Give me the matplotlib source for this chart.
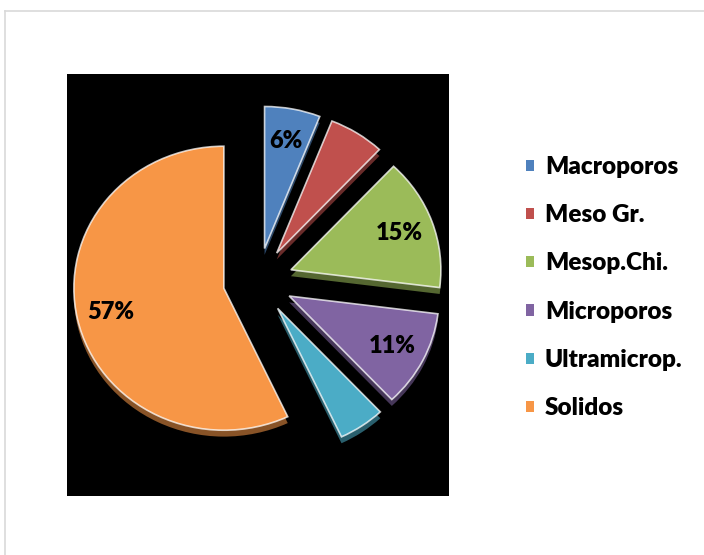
import matplotlib
matplotlib.use("Agg")
import matplotlib.pyplot as plt
from matplotlib.lines import Line2D
from matplotlib.colors import to_rgb

plt.rcParams['font.family'] = ['Lato', 'DejaVu Sans']
plt.rcParams['font.weight'] = 'bold'

categories = ["Macroporos", "Meso Gr.", "Mesop.Chi.", "Microporos", "Ultramicrop.", "Solidos"]
values = [6, 6, 15, 11, 5, 57]
show_pct = [True, False, True, True, False, True]
colors = ["#4F81BD", "#C0504D", "#9BBB59", "#8064A2", "#4BACC6", "#F79646"]

explode = [0.233] * len(values)
side_colors = [tuple(c * 0.55 for c in to_rgb(col)) for col in colors]

fig = plt.figure(figsize=(7.04, 5.55), dpi=100)
fig.patch.set_facecolor("white")

# thin grey frame at top and left
fig.add_artist(Line2D([5 / 704, 1], [1 - 11 / 555, 1 - 11 / 555], color="#D9D9D9", lw=1.2))
fig.add_artist(Line2D([5 / 704, 5 / 704], [0, 1 - 11 / 555], color="#D9D9D9", lw=1.2))

ax = fig.add_axes([67 / 704, 1 - 496 / 555, 382 / 704, 422 / 555])
ax.set_facecolor("black")

# side of the 3d slices: same pie shifted down in a darker shade
ax.pie(values, explode=explode, colors=side_colors, startangle=90, counterclock=False,
       radius=1, center=(0, -0.045), frame=True,
       wedgeprops=dict(linewidth=0, zorder=1))

wedges, texts, pcts = ax.pie(values, explode=explode, colors=colors, startangle=90,
                             counterclock=False, radius=1, frame=True,
                             autopct='%1.0f%%', pctdistance=0.77,
                             wedgeprops=dict(edgecolor=(1, 1, 1, 0.75), linewidth=1.2),
                             textprops=dict(fontsize=17, fontweight='heavy', color='black'))
for t, show in zip(pcts, show_pct):
    t.set_visible(show)

ax.set_aspect('auto')
ax.set_xlim(-191 / 150, 191 / 150)
ax.set_ylim(-215 / 142, 207 / 142)
ax.set_xticks([])
ax.set_yticks([])
for s in ax.spines.values():
    s.set_visible(False)

handles = [plt.Rectangle((0, 0), 1, 1, facecolor=c, edgecolor='none') for c in colors]
fig.legend(handles, categories, loc='upper left', bbox_to_anchor=(526 / 704, 1 - 156 / 555),
           frameon=False, prop=dict(weight='heavy', size=17.5),
           handlelength=0.33, handleheight=0.33, handletextpad=0.45,
           labelspacing=1.08, borderpad=0, borderaxespad=0)

fig.savefig("out.png", dpi=100)
